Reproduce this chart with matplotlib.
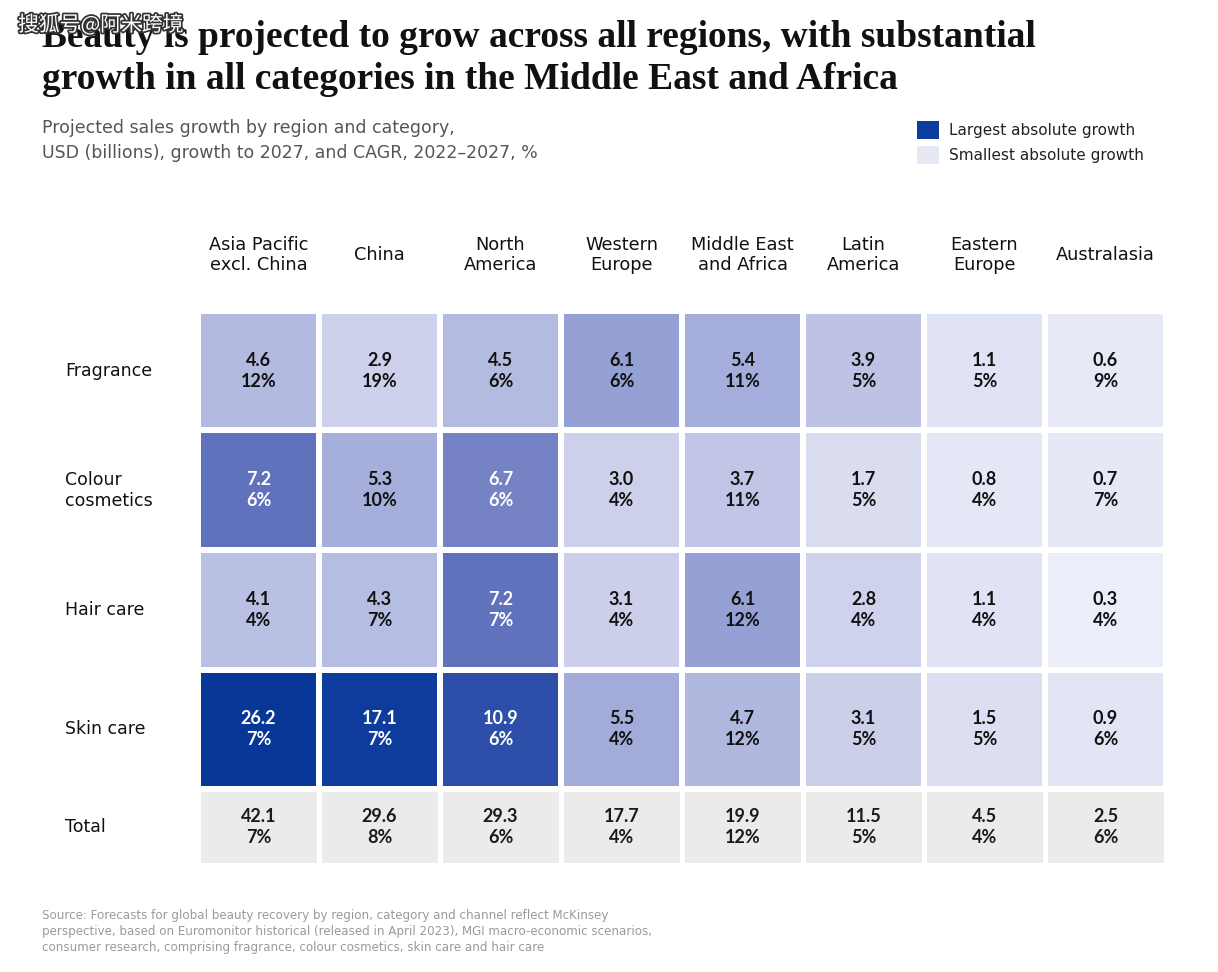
import numpy as np
import matplotlib.pyplot as plt
import matplotlib.transforms as mtransforms
import matplotlib.patheffects as pe
from matplotlib.colors import LinearSegmentedColormap, ListedColormap, Normalize
from matplotlib.patches import Patch

# data
regions = ['Asia Pacific\nexcl. China', 'China', 'North\nAmerica', 'Western\nEurope',
           'Middle East\nand Africa', 'Latin\nAmerica', 'Eastern\nEurope', 'Australasia']
categories = ['Fragrance', 'Colour\ncosmetics', 'Hair care', 'Skin care']
growth = [[4.6, 2.9, 4.5, 6.1, 5.4, 3.9, 1.1, 0.6],
          [7.2, 5.3, 6.7, 3.0, 3.7, 1.7, 0.8, 0.7],
          [4.1, 4.3, 7.2, 3.1, 6.1, 2.8, 1.1, 0.3],
          [26.2, 17.1, 10.9, 5.5, 4.7, 3.1, 1.5, 0.9]]
cagr = [[12, 19, 6, 6, 11, 5, 5, 9],
        [6, 10, 6, 4, 11, 5, 4, 7],
        [4, 7, 7, 4, 12, 4, 4, 4],
        [7, 7, 6, 4, 12, 5, 5, 6]]
total_growth = [42.1, 29.6, 29.3, 17.7, 19.9, 11.5, 4.5, 2.5]
total_cagr = [7, 8, 6, 4, 12, 5, 4, 6]

plt.rcParams['font.family'] = ['DejaVu Sans']

W, H = 1218, 972
fig = plt.figure(figsize=(W / 100, H / 100), dpi=100)

#colour scale, light lavender -> deep blue
vmax = 26.2
stops = [(0, '#eef0f9'), (1, '#e0e3f3'), (2, '#d6d9ef'), (3, '#cdd0eb'), (4, '#bcc2e4'),
         (5, '#aab2dd'), (6, '#98a3d6'), (7, '#6474bd'), (11, '#2b4ea8'), (17, '#0d3c9c'),
         (26.2, '#073898')]
cmap = LinearSegmentedColormap.from_list('beauty', [(v / vmax, c) for v, c in stops])
norm = Normalize(0, vmax)

ax = fig.add_axes([198 / W, 1 - 789 / H, 968 / W, 478 / H])
vals = np.array(growth)
ax.pcolormesh(vals, cmap=cmap, norm=norm, edgecolors='white', linewidth=3)
ax.set_xlim(0, 8)
ax.set_ylim(4, 0)
ax.axis('off')

cell_font = ['Lato', 'DejaVu Sans']
for i in range(vals.shape[0]):
    for j in range(vals.shape[1]):
        r, g, b, _ = cmap(norm(vals[i, j]))
        lum = 0.299 * r + 0.587 * g + 0.114 * b
        col = 'white' if lum < 0.55 else '#111111'
        ax.text(j + 0.5, i + 0.5, f'{vals[i, j]:.1f}\n{cagr[i][j]}%', ha='center', va='center',
                fontsize=13, fontweight='bold', color=col, linespacing=1.3, family=cell_font)

# total row
ax2 = fig.add_axes([198 / W, 1 - 865 / H, 968 / W, 76 / H])
tot = np.array([total_growth])
ax2.pcolormesh(tot, cmap=ListedColormap(['#ebebeb']), edgecolors='white', linewidth=2.5)
ax2.set_xlim(0, 8)
ax2.set_ylim(1, 0)
ax2.axis('off')
for j, v in enumerate(total_growth):
    ax2.text(j + 0.5, 0.5, f'{v:.1f}\n{total_cagr[j]}%', ha='center', va='center',
             fontsize=13, fontweight='bold', color='#1a1a1a', linespacing=1.3, family=cell_font)

# row labels
blend = mtransforms.blended_transform_factory(fig.transFigure, ax.transData)
for i, cat in enumerate(categories):
    ax.text(65 / W, i + 0.5, cat, transform=blend, ha='left', va='center',
            fontsize=12.5, color='#111111', linespacing=1.2)
blend2 = mtransforms.blended_transform_factory(fig.transFigure, ax2.transData)
ax2.text(65 / W, 0.5, 'Total', transform=blend2, ha='left', va='center',
         fontsize=12.5, color='#111111')

# column headers
for j, reg in enumerate(regions):
    ax.text(j + 0.5, 1 + 56 / 478, reg, transform=ax.get_xaxis_transform(), ha='center',
            va='center', multialignment='center', fontsize=12.8, color='#111111', linespacing=1.15)

# title + subtitle
fig.text(42 / W, 1 - 20 / H, 'Beauty is projected to grow across all regions, with substantial\n'
         'growth in all categories in the Middle East and Africa',
         ha='left', va='top', fontsize=27, fontweight='bold', family='Liberation Serif',
         color='#111111', linespacing=1.25)
fig.text(42 / W, 1 - 128 / H, 'Projected sales growth by region and category,',
         ha='left', va='center', fontsize=12.5, color='#555555')
fig.text(42 / W, 1 - 153 / H, 'USD (billions), growth to 2027, and CAGR, 2022\u20132027, %',
         ha='left', va='center', fontsize=12.5, color='#555555')

# legend
handles = [Patch(facecolor='#0b3d9c', edgecolor='none'),
           Patch(facecolor='#e6e8f4', edgecolor='none')]
fig.legend(handles, ['Largest absolute growth', 'Smallest absolute growth'],
           loc='upper left', bbox_to_anchor=(912 / W, 1 - 116 / H), frameon=False,
           fontsize=11, handlelength=1.45, handleheight=1.45, handletextpad=0.7,
           labelspacing=0.45, borderaxespad=0, borderpad=0.3, labelcolor='#222222')

# source
fig.text(42 / W, 1 - 909 / H,
         'Source: Forecasts for global beauty recovery by region, category and channel reflect McKinsey\n'
         'perspective, based on Euromonitor historical (released in April 2023), MGI macro-economic scenarios,\n'
         'consumer research, comprising fragrance, colour cosmetics, skin care and hair care',
         ha='left', va='top', fontsize=8.6, color='#9a9a9a', linespacing=1.3)

# watermark
fig.text(18 / W, 1 - 25 / H, '搜狐号@阿米跨境', ha='left', va='center', fontsize=15,
         color='white', family=['Noto Sans CJK SC', 'DejaVu Sans'],
         path_effects=[pe.withStroke(linewidth=2.5, foreground='#333333')])

fig.savefig('out.png', dpi=100)
